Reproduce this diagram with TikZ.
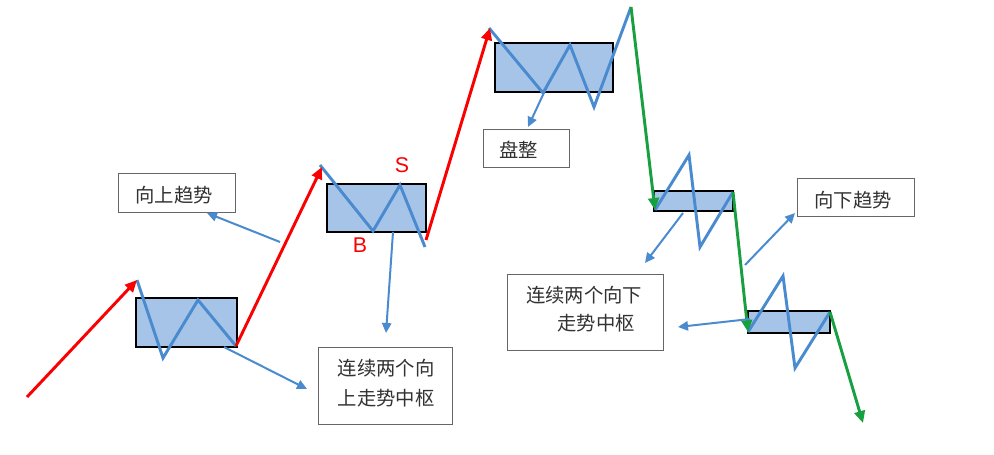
\documentclass[tikz,border=0pt]{standalone}
\usepackage{fontspec}
\setsansfont{Liberation Sans}
\newfontfamily\cjk{Noto Sans CJK SC}
\usetikzlibrary{arrows.meta}
\definecolor{zfill}{RGB}{166,196,232}
\definecolor{zblue}{RGB}{74,138,207}
\definecolor{tred}{RGB}{250,0,0}
\definecolor{tgreen}{RGB}{24,160,64}
\definecolor{tgray}{RGB}{50,50,50}
\begin{document}
\begin{tikzpicture}[x=0.75pt,y=-0.75pt,
  zone/.style={draw=black, line width=2pt, fill=zfill, inner sep=0pt},
  zig/.style={draw=zblue, line width=2.2pt, line join=miter},
  uptrend/.style={draw=tred, line width=2.2pt, -{Triangle[length=9pt,width=8pt]}},
  dntrend/.style={draw=tgreen, line width=2.2pt, -{Triangle[length=9pt,width=8pt]}},
  note/.style={draw=zblue, line width=1.5pt, -{Triangle[length=7.5pt,width=7pt]}},
  lbl/.style={draw=black!60, line width=0.7pt, fill=white, inner sep=0pt},
  cjktxt/.style={font=\cjk\fontsize{14.5}{22}\selectfont, text=tgray, inner sep=0pt},
  bs/.style={font=\sffamily\fontsize{16}{16}\selectfont, text=tred, inner sep=0pt}]

\useasboundingbox (0,0) rectangle (994,454);

% label boxes
\node[lbl, minimum width=87.75pt, minimum height=29.25pt] (up) at (176.5,192.5) {};
\node[lbl, minimum width=100.5pt, minimum height=57.75pt] (upc) at (385,385.5) {};
\node[lbl, minimum width=64.5pt, minimum height=28.5pt] (pz) at (526,148) {};
\node[lbl, minimum width=117pt, minimum height=57pt] (dnc) at (585,312) {};
\node[lbl, minimum width=87.75pt, minimum height=28.5pt] (dn) at (855.5,197) {};

\node[cjktxt] (t1) at (174,195) {向上趋势};
\node[cjktxt] (t2a) at (386,368) {连续两个向};
\node[cjktxt] (t2b) at (386,398) {上走势中枢};
\node[cjktxt] (t3) at (518.5,150) {盘整};
\node[cjktxt] (t4a) at (584,295) {连续两个向下};
\node[cjktxt] (t4b) at (596,323) {走势中枢};
\node[cjktxt] (t5) at (853,200) {向下趋势};

% zones
\node[zone, minimum width=75.75pt, minimum height=36.75pt] (z1) at (186.5,322.5) {};
\node[zone, minimum width=74.25pt, minimum height=36pt] (z2) at (376.5,208) {};
\node[zone, minimum width=88.5pt, minimum height=36.75pt] (z3) at (554,67.5) {};
\node[zone, minimum width=59.25pt, minimum height=15pt] (z4) at (693.5,201) {};
\node[zone, minimum width=61.5pt, minimum height=16.5pt] (z5) at (789,322) {};

% vertices
\coordinate (r1s) at (27,397);
\coordinate (a1) at (137,280);
\coordinate (a2) at (163,358);
\coordinate (a3) at (198,300);
\coordinate (a4) at (236,346);
\coordinate (b1) at (320,165);
\coordinate (b2) at (373,231);
\coordinate (b3) at (400,185);
\coordinate (b4) at (425,247);
\coordinate (r3s) at (426,240);
\coordinate (c1) at (489,28);
\coordinate (c2) at (543,93);
\coordinate (c3) at (570,45);
\coordinate (c4) at (594,107);
\coordinate (c5) at (631,7);
\coordinate (d1) at (655,210);
\coordinate (d2) at (689,155);
\coordinate (d3) at (700,247);
\coordinate (d4) at (733,192);
\coordinate (e1) at (748,332);
\coordinate (e2) at (783,276);
\coordinate (e3) at (795,368);
\coordinate (e4) at (830,312);
\coordinate (gend) at (863,423);

% zigzags
\draw[zig] (a1) -- (a2) -- (a3) -- (a4);
\draw[zig] (b1) -- (b2) -- (b3) -- (b4);
\draw[zig] (c1) -- (c2) -- (c3) -- (c4) -- (c5);
\draw[zig] (d1) -- (d2) -- (d3) -- (d4);
\draw[zig] (e1) -- (e2) -- (e3) -- (e4);

% trends
\draw[uptrend] (r1s) -- (a1);
\draw[uptrend] (a4) -- ([xshift=1.5pt,yshift=-1.5pt]b1);
\draw[uptrend] (r3s) -- ([xshift=0.75pt]c1);
\draw[dntrend] (c5) -- (d1);
\draw[dntrend] (d4) -- (e1);
\draw[dntrend] (e4) -- (gend);

% notes
\coordinate (n1s) at (280,242);
\coordinate (n2s) at (224,347);
\coordinate (n3s) at (393,232);
\coordinate (n4s) at (548,84);
\coordinate (n5s) at (683,213);
\coordinate (n6s) at (750,319);
\coordinate (n7s) at (745,265);
\coordinate (n1e) at (207,213);
\coordinate (n2e) at (307,389);
\coordinate (n3e) at (386,333);
\coordinate (n4e) at (528,127);
\coordinate (n5e) at (645,263);
\coordinate (n6e) at (678,327);
\coordinate (n7e) at (795,213);
\draw[note] (n1s) -- (n1e);
\draw[note] (n2s) -- (n2e);
\draw[note] (n3s) -- (n3e);
\draw[note] (n4s) -- (n4e);
\draw[note] (n5s) -- (n5e);
\draw[note] (n6s) -- (n6e);
\draw[note] (n7s) -- (n7e);

\node[bs] (S) at (402,165) {S};
\node[bs] (B) at (360,245) {B};
\end{tikzpicture}
\end{document}
